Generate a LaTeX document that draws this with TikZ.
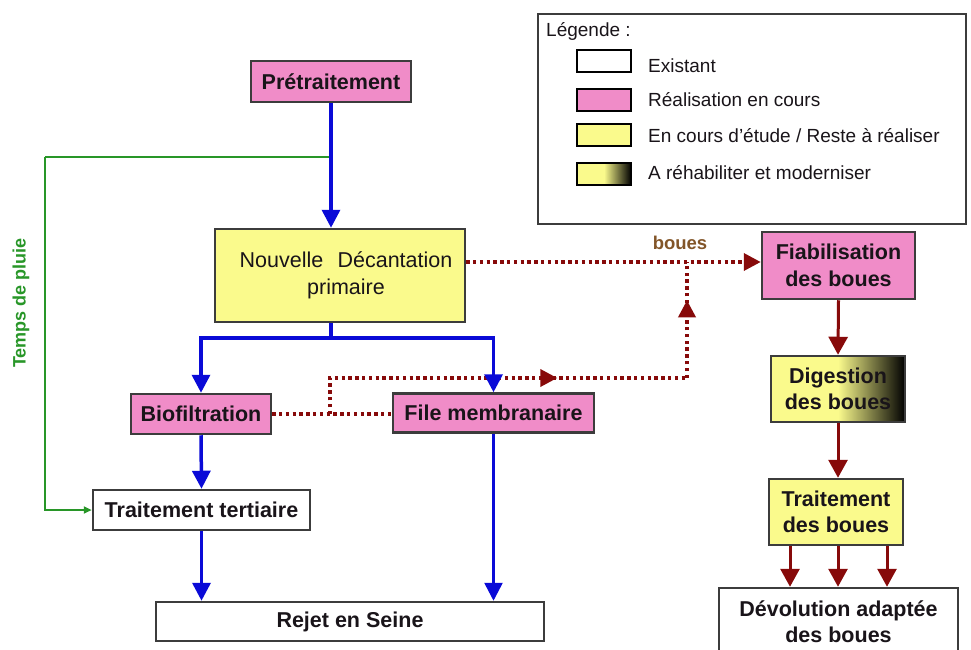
\documentclass[tikz,border=0pt]{standalone}
\usepackage{fontspec}
\setmainfont{Liberation Sans}
\usetikzlibrary{arrows.meta,decorations.markings}
\definecolor{pinkbox}{RGB}{240,140,200}
\definecolor{yelbox}{RGB}{250,250,140}
\definecolor{bordc}{RGB}{60,60,60}
\definecolor{textc}{RGB}{25,20,25}
\definecolor{flowblue}{RGB}{10,10,215}
\definecolor{sludge}{RGB}{135,10,10}
\definecolor{rain}{RGB}{40,150,40}
\definecolor{bouesc}{RGB}{130,85,40}
\pgfdeclarehorizontalshading{yelblack}{100bp}{color(0bp)=(yelbox); color(25bp)=(yelbox); color(50bp)=(yelbox); color(75bp)=(black); color(100bp)=(black)}
\tikzset{
  box/.style={draw=bordc, line width=2.5pt, inner sep=0pt, align=center,
    text=textc, font=\fontsize{21.5}{26.5}\selectfont\bfseries},
  pinkb/.style={box, fill=pinkbox},
  yelb/.style={box, fill=yelbox},
  whiteb/.style={box, fill=white},
  swatch/.style={draw=black, line width=2.5pt, minimum width=54, minimum height=22, inner sep=0pt},
  legtext/.style={anchor=west, inner sep=0pt, text=textc, font=\fontsize{19}{22}\selectfont},
  blueflow/.style={draw=flowblue, line width=3.5pt, -{Triangle[width=18pt,length=18pt]}},
  bluepipe/.style={draw=flowblue, line width=3.5pt},
  redflow/.style={draw=sludge, line width=3pt, -{Triangle[width=19pt,length=18pt]}},
  dotline/.style={draw=sludge, line width=3.6pt, dash pattern=on 3.4pt off 3.4pt},
  midtip/.style={postaction={decorate, decoration={markings,
     mark=at position #1 with {\arrow[sludge]{Triangle[width=17pt,length=17pt]}}}}},
}
\begin{document}
\begin{tikzpicture}[x=1pt,y=-1pt]
\useasboundingbox (0,0) rectangle (971,650);
\clip (0,0) rectangle (971,650);

% legend
\node[draw=bordc, line width=1.6pt, minimum width=428, minimum height=210, inner sep=0pt] (leg) at (752,119) {};
\node[legtext] (legt) at (546,31) {Légende :};
\node[swatch, fill=white] (s1) at (604,61) {};
\node[swatch, fill=pinkbox] (s2) at (604,100) {};
\node[swatch, fill=yelbox] (s3) at (604,135) {};
\node[swatch, shading=yelblack] (s4) at (604,174) {};
\node[legtext] (l1) at (648,66) {Existant};
\node[legtext] (l2) at (648,100) {Réalisation en cours};
\node[legtext] (l3) at (648,136) {En cours d'étude / Reste à réaliser};
\node[legtext] (l4) at (648,173) {A réhabiliter et moderniser};

% main line
\node[pinkb, minimum width=160, minimum height=41] (pre) at (331,81.5) {Prétraitement};
\node[yelb, minimum width=250, minimum height=93, font=\fontsize{21.5}{27}\selectfont, text width=250] (dec) at (340,275.5) {\hspace*{12pt}Nouvelle~~Décantation\\\hspace*{12pt}primaire};
\node[pinkb, minimum width=140, minimum height=40] (bio) at (201,414) {Biofiltration};
\node[pinkb, minimum width=201, minimum height=39] (mem) at (493.5,413) {File membranaire};
\node[whiteb, minimum width=217, minimum height=40] (tert) at (201.5,510) {Traitement tertiaire};
\node[whiteb, minimum width=388, minimum height=39] (rej) at (350,621.5) {Rejet en Seine};

% sludge line
\node[pinkb, minimum width=153, minimum height=67] (fia) at (838.5,265.5) {Fiabilisation\\des boues};
\node[box, shading=yelblack, minimum width=134, minimum height=66] (dig) at (838,389) {Digestion\\des boues};
\node[yelb, minimum width=134, minimum height=66] (tdb) at (836,512) {Traitement\\des boues};
\node[whiteb, minimum width=239, minimum height=67] (dev) at (838.5,621.5) {Dévolution adaptée\\des boues};

% coordinates
\coordinate (gj) at (331,157);
\coordinate (gl) at (45,157);
\coordinate (split) at (331,338);
\coordinate (dj) at (330,414);
\coordinate (dk) at (687,378);
\coordinate (bj) at (687,262);

% rain bypass
\draw[draw=rain, line width=2pt] (gj) -- (gl);
\draw[draw=rain, line width=2pt, -{Triangle[width=7pt,length=8pt]}] (gl) |- (tert.west);
\node[rotate=90, text=rain, inner sep=0pt, font=\fontsize{18}{20}\selectfont\bfseries] (tdp) at (21,303) {Temps de pluie};

% sludge dotted lines
\draw[dotline] (bio.east) -- (mem.west |- bio.east);
\draw[dotline, midtip=0.67] (dj) |- (dk);
\draw[dotline, midtip=0.67] (dk) -- (bj);
\draw[dotline, -{Triangle[width=17pt,length=17pt]}] (dec.east |- bj) -- (fia.west |- bj);
\node[text=bouesc, inner sep=0pt, font=\fontsize{18.5}{20}\selectfont\bfseries] (bl) at (680,243) {boues};

% water flow
\draw[blueflow] (pre.south) -- (pre.south |- dec.north);
\draw[bluepipe] (pre.south |- dec.south) -- (split);
\draw[blueflow] (split) -| (bio.north);
\draw[blueflow] (split) -| (mem.north);
\draw[blueflow] (bio.south) -- (tert.north);
\draw[blueflow] (tert.south) -- (tert.south |- rej.north);
\draw[blueflow, line width=2.6pt] (mem.south) -- (mem.south |- rej.north);

% sludge flow
\draw[redflow] (fia.south) -- (dig.north);
\draw[redflow] (dig.south) -- (dig.south |- tdb.north);
\draw[redflow] ([xshift=-46pt]tdb.south) -- ([xshift=-46pt]tdb.south |- dev.north);
\draw[redflow] ([xshift=2pt]tdb.south) -- ([xshift=2pt]tdb.south |- dev.north);
\draw[redflow] ([xshift=51pt]tdb.south) -- ([xshift=51pt]tdb.south |- dev.north);
\end{tikzpicture}
\end{document}
